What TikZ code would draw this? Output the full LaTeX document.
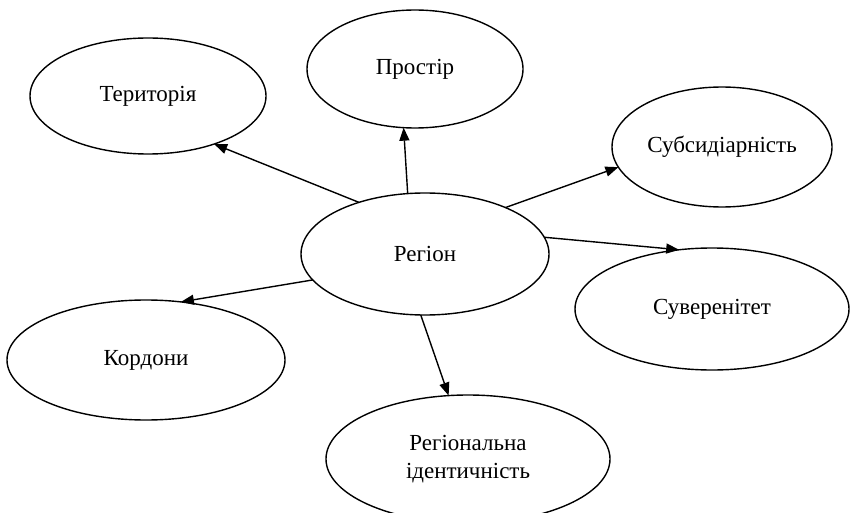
\documentclass[tikz,border=0pt]{standalone}
\usepackage{fontspec}
\setmainfont{Liberation Serif}
\usetikzlibrary{shapes.geometric,arrows.meta}
\begin{document}
\begin{tikzpicture}[x=1pt,y=-1pt,
  bubble/.style={ellipse, draw, line width=1.4pt, inner sep=0pt, outer sep=0pt,
    align=center, font=\fontsize{23}{28}\selectfont},
  link/.style={line width=1.4pt, -{Triangle[length=13pt,width=10pt]}}]
\useasboundingbox (0,0) rectangle (850,513);
\node[bubble, minimum width=236pt, minimum height=116pt] (ter) at (148,96) {Територія};
\node[bubble, minimum width=216pt, minimum height=118pt] (pro) at (415,69) {Простір};
\node[bubble, minimum width=220pt, minimum height=120pt] (sub) at (722,147) {Субсидіарність};
\node[bubble, minimum width=248pt, minimum height=122pt] (reg) at (425,254) {Регіон};
\node[bubble, minimum width=274pt, minimum height=122pt] (suv) at (712,309) {Суверенітет};
\node[bubble, minimum width=278pt, minimum height=120pt] (kor) at (146,360) {Кордони};
\node[bubble, minimum width=284pt, minimum height=128pt] (rid) at (468,459) {Регіональна\\ідентичність};
\draw[link] (reg.142.6) -- (ter.324.4);
\draw[link] (reg.106.4) -- (pro.259.4);
\draw[link] (reg.30.4) -- (sub.191.4);
\draw[link] (reg.8.2) -- (suv.119.3);
\draw[link] (reg.193.1) -- (kor.59.3);
\draw[link] (reg.266.4) -- (rid.107.9);
\end{tikzpicture}
\end{document}
